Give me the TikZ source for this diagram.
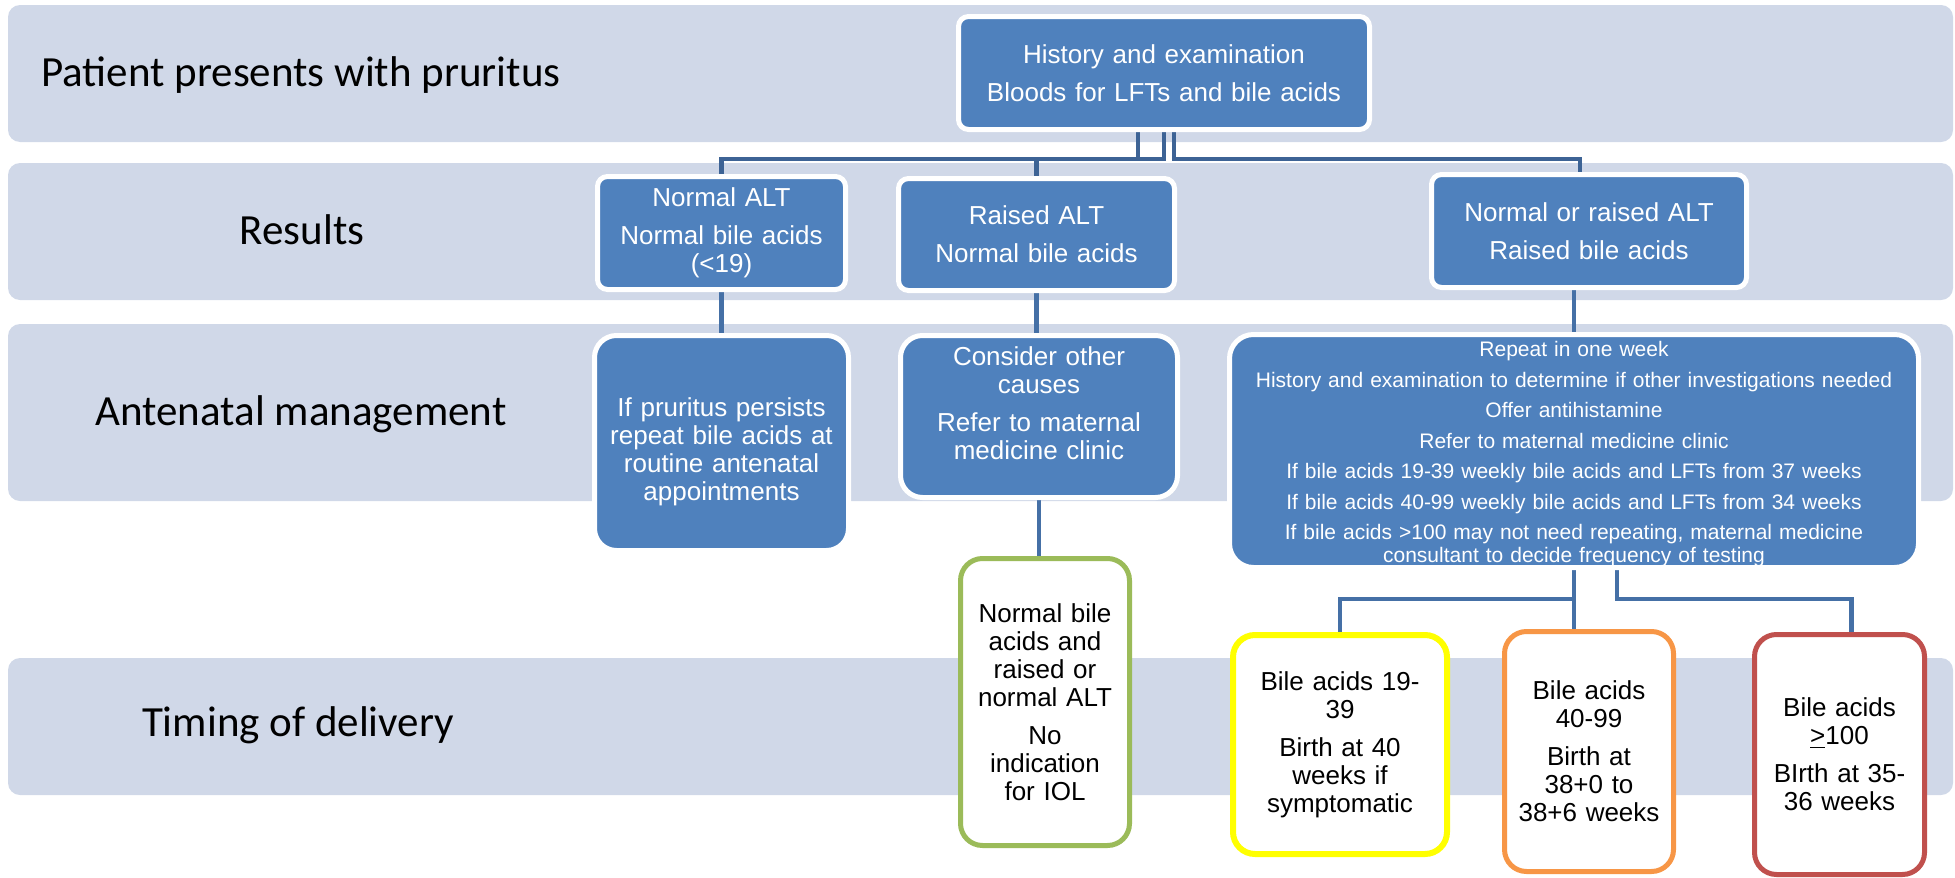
\documentclass[tikz,border=0pt]{standalone}
\usepackage{fontspec}
\setmainfont{Liberation Sans}
\newfontfamily\lblfont{Carlito}
\usetikzlibrary{backgrounds}

\definecolor{bandgray}{RGB}{208,216,232}
\definecolor{boxblue}{RGB}{79,129,189}
\definecolor{linkblue}{RGB}{69,112,166}
\definecolor{linkdark}{RGB}{61,99,149}
\definecolor{iolgreen}{RGB}{155,187,89}
\definecolor{lowyellow}{RGB}{255,255,0}
\definecolor{midorange}{RGB}{247,150,70}
\definecolor{highred}{RGB}{192,80,77}

% extra space under the text of a box (negative moves the text down)
\newcommand{\textlift}[1]{\par\vspace{#1}\hrule height 0pt}

\tikzset{
	band/.style={fill=bandgray, rounded corners=6pt},
	lbl/.style={font=\lblfont\fontsize{21.5}{25}\selectfont, anchor=base, inner sep=0pt},
	boxsize/.style 2 args={minimum width=#1, minimum height=#2, text width=#1},
	bluebox/.style={rectangle, rounded corners=5pt, fill=boxblue, draw=white, line width=2.5pt,
			text=white, align=center, inner sep=0pt, font=\fontsize{13}{14}\selectfont},
	outbox/.style={rectangle, rounded corners=11pt, fill=white, line width=2.5pt,
			text=black, align=center, inner sep=0pt, font=\fontsize{13}{14}\selectfont},
	conn/.style={draw=linkblue, line width=2.4pt},
}

\begin{document}
\begin{tikzpicture}[x=0.5pt,y=-0.5pt]
	\useasboundingbox (0,0) rectangle (1955,878);

	% Row labels
	\node[lbl] (pres) at (301,86) {Patient presents with pruritus};
	\node[lbl] (res) at (302,244) {Results};
	\node[lbl] (ante) at (301,425) {Antenatal management};
	\node[lbl] (time) at (298,736) {Timing of delivery};

	% First visit
	\node[bluebox, boxsize={205.5pt}{56.5pt}] (hist) at (1164,73)
		{History and examination\\[5pt]Bloods for LFTs and bile acids};

	% Results
	\node[bluebox, boxsize={124pt}{56.5pt}] (nalt) at (721.5,233)
		{Normal ALT\\[5pt]Normal bile acids\\(<19)};
	\node[bluebox, boxsize={138pt}{56pt}] (ralt) at (1036.5,234.5)
		{Raised ALT\\[5pt]Normal bile acids};
	\node[bluebox, boxsize={157.5pt}{56.5pt}] (nrba) at (1589,231)
		{Normal or raised ALT\\[5pt]Raised bile acids};

	% Antenatal management
	\node[bluebox, rounded corners=11pt, boxsize={127pt}{107.5pt}] (pers) at (721.5,443)
		{If pruritus persists\\repeat bile acids at\\routine antenatal\\appointments\textlift{-9pt}};
	\node[bluebox, rounded corners=11pt, boxsize={138.5pt}{81pt}] (cons) at (1039,416.5)
		{Consider other\\causes\\[5pt]Refer to maternal\\medicine clinic\textlift{13pt}};
	\node[bluebox, rounded corners=12pt, boxsize={344.5pt}{116.5pt},
		font=\fontsize{10.5}{11.35}\selectfont] (rep) at (1574,451)
		{Repeat in one week\\[3.9pt]
			History and examination to determine if other investigations needed\\[3.9pt]
			Offer antihistamine\\[3.9pt]
			Refer to maternal medicine clinic\\[3.9pt]
			If bile acids 19-39 weekly bile acids and LFTs from 37 weeks\\[3.9pt]
			If bile acids 40-99 weekly bile acids and LFTs from 34 weeks\\[3.9pt]
			If bile acids >100 may not need repeating, maternal medicine\\
			consultant to decide frequency of testing\textlift{-3pt}};

	% Timing of delivery
	\node[outbox, draw=iolgreen, boxsize={84.5pt}{143.5pt}] (iol) at (1045,702)
		{Normal bile\\acids and\\raised or\\normal ALT\\[5pt]No\\indication\\for IOL};
	\node[outbox, draw=lowyellow, line width=3pt, boxsize={107pt}{109.5pt}] (low) at (1340,744.5)
		{Bile acids 19-\\39\\[5pt]Birth at 40\\weeks if\\symptomatic};
	\node[outbox, draw=midorange, boxsize={84.5pt}{120pt}] (mid) at (1589,751.5)
		{Bile acids\\40-99\\[5pt]Birth at\\38+0 to\\38+6 weeks};
	\node[outbox, draw=highred, boxsize={85pt}{120pt}] (high) at (1839.5,754.5)
		{Bile acids\\\underline{>}100\\[5pt]BIrth at 35-\\36 weeks};

	\begin{scope}[on background layer]
		% Grey bands
		\foreach \ya/\yb in {5/142,163/300,324/501,658/795}
			\fill[band] (8,\ya) rectangle (1953,\yb);

		% Connectors
		\coordinate (busA) at (0,159);
		\coordinate (busB) at (0,599);
		\draw[conn, draw=linkdark] ([xshift=-13pt]hist.south) -- ([xshift=-13pt]hist.south |- busA) -| (nalt.north);
		\draw[conn, draw=linkdark] (hist.south) -- (hist.south |- busA) -| (ralt.north);
		\draw[conn, draw=linkdark] ([xshift=5pt]hist.south) -- ([xshift=5pt]hist.south |- busA) -| ([xshift=-4.5pt]nrba.north);
		\draw[conn] (nalt.south) -- (pers.north);
		\draw[conn] (ralt.south) -- (ralt.south |- cons.north);
		\draw[conn] (rep.north |- nrba.south) -- (rep.north);
		\draw[conn] (cons.south) -- (cons.south |- iol.north);
		\draw[conn] (rep.south) -- (rep.south |- busB) -| (low.north);
		\draw[conn] (rep.south) -- (rep.south |- mid.north);
		\draw[conn] ([xshift=21.5pt]rep.south) -- ([xshift=21.5pt]rep.south |- busB) -| ([xshift=6pt]high.north);
	\end{scope}
\end{tikzpicture}
\end{document}
